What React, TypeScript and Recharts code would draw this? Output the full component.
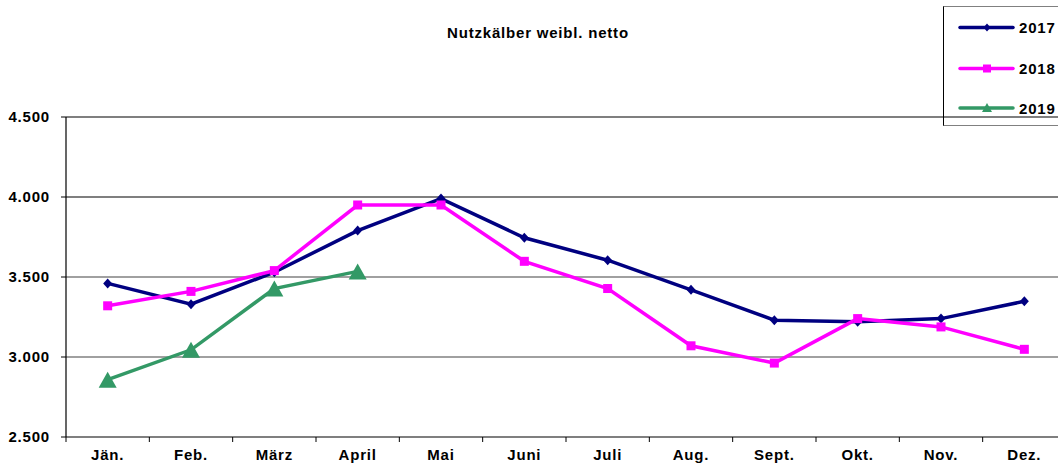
import React from 'react';
import { LineChart, Line, XAxis, YAxis, ReferenceLine, Legend } from 'recharts';

const months = ['Jän.', 'Feb.', 'März', 'April', 'Mai', 'Juni', 'Juli', 'Aug.', 'Sept.', 'Okt.', 'Nov.', 'Dez.'];
const v2017 = [3460, 3330, 3530, 3790, 3990, 3745, 3605, 3420, 3230, 3220, 3240, 3348];
const v2018 = [3320, 3410, 3540, 3950, 3950, 3598, 3428, 3070, 2962, 3240, 3188, 3048];
const v2019: (number | null)[] = [2858, 3045, 3428, 3535, null, null, null, null, null, null, null, null];
const yTicks = [2500, 3000, 3500, 4000, 4500];
const seriesNames = ['2017', '2018', '2019'];
const title = 'Nutzkälber weibl. netto';

const data = months.map((m, i) => ({
  month: m,
  pos: i + 0.5,
  y2017: v2017[i],
  y2018: v2018[i],
  y2019: v2019[i],
}));
const xTicks: number[] = [];
for (let i = 0; i <= months.length * 2; i++) xTicks.push(i / 2);

const FONT = '"Liberation Sans", Arial, sans-serif';
const NAVY = '#000080';
const MAGENTA = '#FF00FF';
const GREEN = '#339966';

const fmt = (v: number) => v.toLocaleString('de-DE');

const Diamond = (props: any) => {
  const { cx, cy } = props;
  if (cx == null || cy == null) return null;
  return <polygon points={`${cx},${cy - 5} ${cx + 4.5},${cy} ${cx},${cy + 5} ${cx - 4.5},${cy}`} fill={NAVY} />;
};
const Square = (props: any) => {
  const { cx, cy } = props;
  if (cx == null || cy == null) return null;
  return <rect x={cx - 4.5} y={cy - 4.5} width={9} height={9} fill={MAGENTA} />;
};
const Triangle = (props: any) => {
  const { cx, cy, value } = props;
  if (cx == null || cy == null || value == null) return null;
  return <polygon points={`${cx},${cy - 8} ${cx + 9},${cy + 8} ${cx - 9},${cy + 8}`} fill={GREEN} />;
};

const MonthTick = (props: any) => {
  const { x, y, payload } = props;
  const v = payload.value as number;
  if (Number.isInteger(v)) {
    return <line x1={x} x2={x} y1={y - 5} y2={y} stroke="#000" strokeWidth={1} />;
  }
  return (
    <text x={x} y={y + 18} textAnchor="middle" fontFamily={FONT} fontWeight="bold" fontSize={15} fill="#000" style={{ letterSpacing: 0.8 }}>
      {months[Math.floor(v)]}
    </text>
  );
};

const LegendBox = () => {
  const colors = [NAVY, MAGENTA, GREEN];
  const ys = [20.5, 61.5, 101];
  return (
    <div style={{ width: 130, height: 120, borderLeft: '1px solid #000', borderTop: '1px solid #808080', borderBottom: '1px solid #808080', boxSizing: 'border-box' }}>
      <svg width={130} height={118} style={{ display: 'block' }}>
        {seriesNames.map((n, i) => {
          const y = ys[i];
          const cx = 43;
          return (
            <g key={n}>
              <line x1={16} x2={69} y1={y} y2={y} stroke={colors[i]} strokeWidth={3.5} strokeLinecap="round" />
              {i === 0 && <polygon points={`${cx},${y - 4} ${cx + 3.5},${y} ${cx},${y + 4} ${cx - 3.5},${y}`} fill={NAVY} />}
              {i === 1 && <rect x={cx - 4} y={y - 4} width={8} height={8} fill={MAGENTA} />}
              {i === 2 && <polygon points={`${cx},${y - 5} ${cx + 5},${y + 4} ${cx - 5},${y + 4}`} fill={GREEN} />}
              <text x={75} y={y + 5.5} fontFamily={FONT} fontWeight="bold" fontSize={15} fill="#000" style={{ letterSpacing: 0.8 }}>
                {n}
              </text>
            </g>
          );
        })}
      </svg>
    </div>
  );
};

export default function App() {
  return (
    <div style={{ position: 'fixed', left: 0, top: 0, width: 1058, height: 471, overflow: 'hidden', background: '#fff' }}>
      <LineChart width={1070} height={471} data={data} margin={{ top: 117, right: 4, bottom: 4, left: 0 }}>
        <text x={538} y={38} textAnchor="middle" fontFamily={FONT} fontWeight="bold" fontSize={15} fill="#000" style={{ letterSpacing: 0.8 }}>
          {title}
        </text>
        <ReferenceLine y={3000} stroke="#808080" strokeWidth={1.5} />
        <ReferenceLine y={3500} stroke="#808080" strokeWidth={1.5} />
        <ReferenceLine y={4000} stroke="#000" strokeWidth={1.2} />
        <ReferenceLine y={4500} stroke="#000" strokeWidth={1.2} />
        <XAxis
          dataKey="pos"
          type="number"
          domain={[0, 12]}
          ticks={xTicks}
          interval={0}
          tickLine={false}
          tickSize={5}
          tickMargin={0}
          height={30}
          axisLine={{ stroke: '#000', strokeWidth: 1.2 }}
          tick={<MonthTick />}
        />
        <YAxis
          domain={[2500, 4500]}
          ticks={yTicks}
          width={66}
          tickSize={5}
          tickMargin={11}
          tickFormatter={fmt}
          axisLine={{ stroke: '#000', strokeWidth: 1.2 }}
          tickLine={{ stroke: '#000' }}
          tick={{ fill: '#000', fontFamily: FONT, fontWeight: 'bold', fontSize: 15, style: { letterSpacing: 0.8 } }}
        />
        <Legend
          layout="horizontal"
          verticalAlign="middle"
          align="center"
          content={<LegendBox />}
          wrapperStyle={{ position: 'absolute', left: 943, top: 6, width: 130, height: 121 }}
        />
        <Line dataKey="y2017" name="2017" stroke={NAVY} strokeWidth={3.5} dot={<Diamond />} activeDot={false} isAnimationActive={false} />
        <Line dataKey="y2018" name="2018" stroke={MAGENTA} strokeWidth={3.5} dot={<Square />} activeDot={false} isAnimationActive={false} />
        <Line dataKey="y2019" name="2019" stroke={GREEN} strokeWidth={3.5} dot={<Triangle />} activeDot={false} isAnimationActive={false} connectNulls={false} />
      </LineChart>
    </div>
  );
}
